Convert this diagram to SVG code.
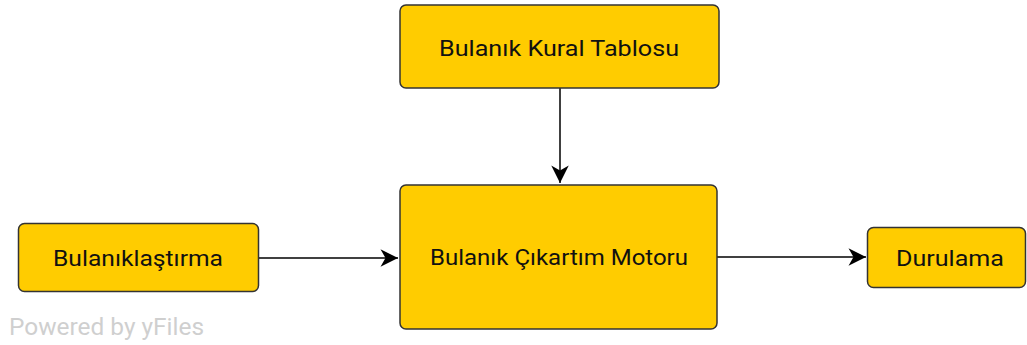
<svg xmlns="http://www.w3.org/2000/svg" width="1027" height="345" viewBox="0 0 1027 345">
<style>
.node rect{fill:#ffcc00;stroke:#333;stroke-width:1.5}
.node text{font-family:Roboto,"Liberation Sans",Arial,sans-serif;font-size:22px;fill:#111;text-anchor:middle}
.edge{stroke:#000;stroke-width:1.5;fill:none}
.wm{font-family:Roboto,"Liberation Sans",Arial,sans-serif;font-size:24px;fill:#cfcfcf}
</style>
<defs>
<marker id="arr" markerUnits="userSpaceOnUse" markerWidth="20" markerHeight="20" refX="0" refY="0" viewBox="-15 -8 16 16" orient="auto">
<path d="M -14 -7 L 0 0 L -14 7 L -10 0 Z" fill="#000"/>
</marker>
</defs>
<rect width="1027" height="345" fill="#fff"/>
<g id="connectors">
<path class="edge" d="M 560 88 L 560 183" marker-end="url(#arr)"/>
<path class="edge" d="M 259 258 L 398 258" marker-end="url(#arr)"/>
<path class="edge" d="M 717 257 L 866 257" marker-end="url(#arr)"/>
</g>
<g id="n-table" class="node"><rect x="400" y="5" width="319" height="83" rx="6"/><text x="559" y="55.5" textLength="240" lengthAdjust="spacingAndGlyphs">Bulanık Kural Tablosu</text></g>
<g id="n-engine" class="node"><rect x="400" y="185" width="317" height="144" rx="6"/><text x="559" y="265" textLength="258" lengthAdjust="spacingAndGlyphs">Bulanık Çıkartım Motoru</text></g>
<g id="n-fuzz" class="node"><rect x="18.5" y="223.5" width="240" height="68" rx="6"/><text x="138" y="265.5" textLength="170" lengthAdjust="spacingAndGlyphs">Bulanıklaştırma</text></g>
<g id="n-defuzz" class="node"><rect x="867.5" y="227.5" width="158" height="60" rx="6"/><text x="950" y="265.5" textLength="108" lengthAdjust="spacingAndGlyphs">Durulama</text></g>
<text class="wm" x="9" y="335" textLength="195" lengthAdjust="spacingAndGlyphs">Powered by yFiles</text>
</svg>
